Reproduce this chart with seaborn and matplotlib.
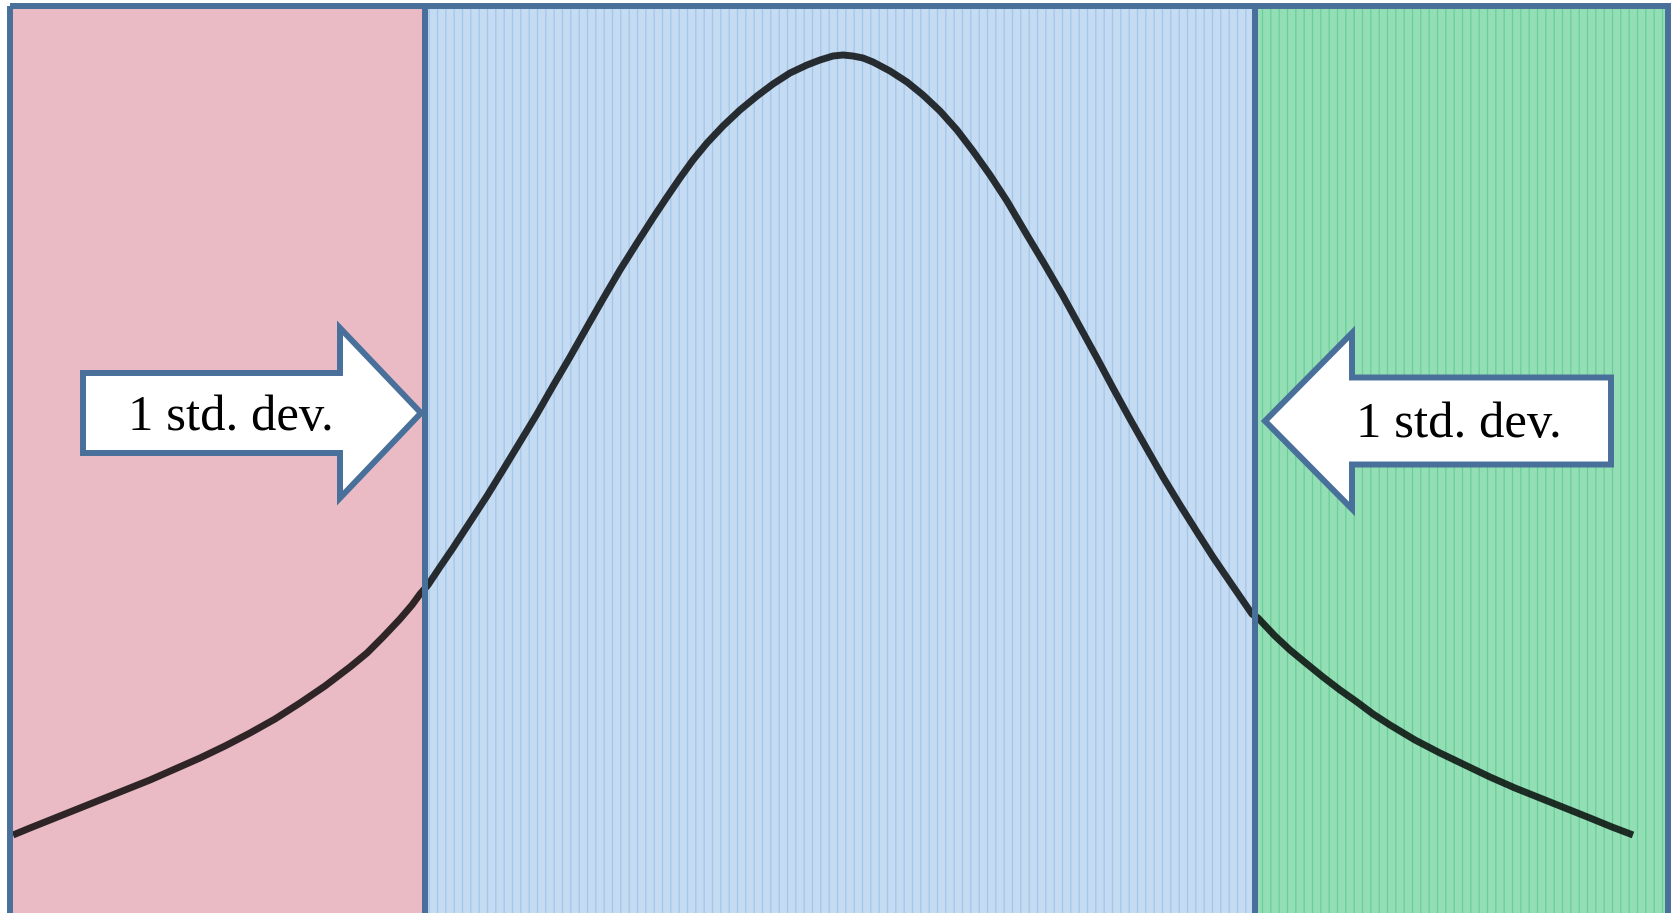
import numpy as np
import pandas as pd
import seaborn as sns
import matplotlib.pyplot as plt
from matplotlib.patches import FancyArrow

# curve (horizontal position, distance from top, image pixels)
curve_x = [13, 30, 50, 75, 100, 125, 150, 175, 200, 225, 250, 275, 300, 325, 350,
           367, 383, 400, 412, 420,
           428, 440, 453, 470, 487, 503, 520, 537, 553, 570, 587, 603, 620, 637,
           653, 667, 680, 693, 707, 723, 740, 757, 773, 790, 807, 820, 833, 843,
           853, 863, 873, 890, 907, 923, 940, 957, 973, 990, 1007, 1027, 1045,
           1063, 1080, 1097, 1113, 1130, 1147, 1163, 1180, 1197, 1213, 1230, 1252,
           1258, 1275, 1290, 1307, 1323, 1340, 1357, 1373, 1390, 1415, 1440, 1465,
           1490, 1515, 1540, 1565, 1590, 1612, 1633]
curve_y = [835, 828, 820, 810, 800, 790, 780, 769, 758, 746, 733, 719, 703, 686, 667,
           653, 637, 619, 605, 594,
           585, 567, 548, 522, 496, 470, 442, 414, 386, 357, 327, 299, 270, 243,
           218, 197, 178, 160, 143, 126, 110, 96, 84, 73, 65, 60, 56, 55,
           56, 58, 62, 71, 82, 95, 111, 130, 151, 175, 201, 235, 265,
           296, 327, 358, 388, 419, 449, 477, 505, 532, 557, 582, 614,
           618, 636, 650, 664, 677, 690, 702, 714, 725, 740, 753, 765,
           777, 788, 798, 808, 818, 827, 835]

# panel edges: left edge, -1 sd, +1 sd, right edge
panel_edges = [10, 425, 1255, 1668]
panel_colors = ['#eabbc5', '#c4dbf2', '#94deb5']
hatch_colors = ['#eabbc5', '#a3c6ec', '#67cf97']
label = '1 std. dev.'

sns.set_theme(style='white')
plt.rcParams['font.family'] = ['Liberation Serif', 'DejaVu Serif']
plt.rcParams['hatch.linewidth'] = 0.9

border = '#48709b'
fig = plt.figure(figsize=(16.71, 9.13), dpi=100)
ax = fig.add_axes([0, 0, 1, 1])
ax.set_xlim(0, 1671)
ax.set_ylim(913, 0)
ax.axis('off')

lefts = panel_edges[:-1]
widths = np.diff(panel_edges)
for i in range(3):
    ax.bar(lefts[i], 930, width=widths[i], bottom=6, align='edge',
           color=panel_colors[i], edgecolor=hatch_colors[i], linewidth=0,
           hatch='' if i == 0 else '||', zorder=1)

df = pd.DataFrame({'x': curve_x, 'y': curve_y})
sns.lineplot(data=df, x='x', y='y', sort=False, color='black', alpha=0.8,
             linewidth=5, ax=ax, zorder=2)
ax.lines[-1].set_solid_capstyle('butt')
ax.lines[-1].set_solid_joinstyle('round')

# panel outlines on top of the curve
ax.bar(lefts, 930, width=widths, bottom=6, align='edge', fill=False,
       edgecolor=border, linewidth=4.3, zorder=3)

# arrows pointing at the +/- 1 sd lines
ax.add_patch(FancyArrow(83, 413, 421 - 83, 0, width=80, head_width=170,
                        head_length=81, length_includes_head=True,
                        facecolor='white', edgecolor=border, linewidth=4.3,
                        joinstyle='miter', zorder=4))
ax.add_patch(FancyArrow(1611, 421, 1265 - 1611, 0, width=87, head_width=176,
                        head_length=87, length_includes_head=True,
                        facecolor='white', edgecolor=border, linewidth=4.3,
                        joinstyle='miter', zorder=4))

ax.text(231, 430, label, fontsize=36.5, ha='center', va='baseline', color='black', zorder=5)
ax.text(1459, 437, label, fontsize=36.5, ha='center', va='baseline', color='black', zorder=5)

fig.savefig('out.png', dpi=100)
